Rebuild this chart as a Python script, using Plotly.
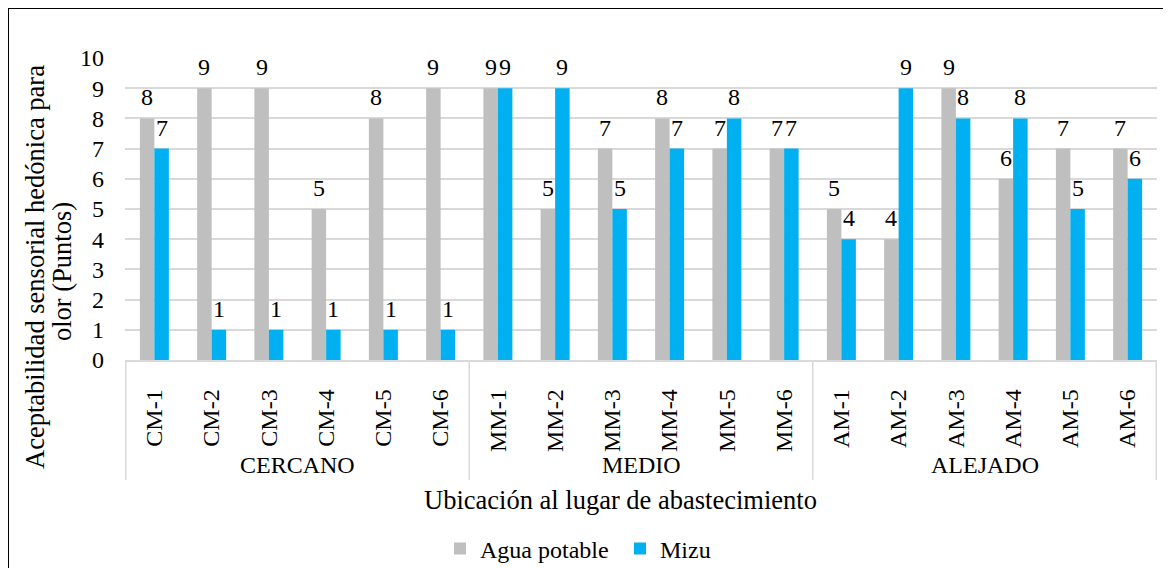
import plotly.graph_objects as go

categories = ["CM-1", "CM-2", "CM-3", "CM-4", "CM-5", "CM-6",
              "MM-1", "MM-2", "MM-3", "MM-4", "MM-5", "MM-6",
              "AM-1", "AM-2", "AM-3", "AM-4", "AM-5", "AM-6"]
groups = ["CERCANO", "MEDIO", "ALEJADO"]
agua_potable = [8, 9, 9, 5, 8, 9, 9, 5, 7, 8, 7, 7, 5, 4, 9, 6, 7, 7]
mizu = [7, 1, 1, 1, 1, 1, 9, 9, 5, 7, 8, 7, 4, 9, 8, 8, 5, 6]
y_ticks = [0, 1, 2, 3, 4, 5, 6, 7, 8, 9, 10]

FONT = "Liberation Serif, Times New Roman, serif"
GRAY = "#bfbfbf"
BLUE = "#00b0f0"
GRID = "#d9d9d9"

OFF = 8  # page body margin
W, H = 1171, 568
L, T = 125 - OFF, 58 - OFF
R = W - (1157 - OFF)
B = H - (360 - OFF)
PW = W - L - R
PH = H - T - B

def px_x(page_x):
    return (page_x - OFF - L) / PW

def px_y(page_y):
    return (H - B - (page_y - OFF)) / PH

fig = go.Figure()
fig.add_trace(go.Bar(name="Agua potable", x=categories, y=agua_potable,
                     marker=dict(color=GRAY, line=dict(width=0))))
fig.add_trace(go.Bar(name="Mizu", x=categories, y=mizu,
                     marker=dict(color=BLUE, line=dict(width=0))))

BARGAP = 0.494
annotations = []
half = PW / len(categories) * (1 - BARGAP) / 4
for c, v in zip(categories, agua_potable):
    annotations.append(dict(x=c, y=v, xref="x", yref="y", text=str(v), showarrow=False,
                            xshift=-half, yshift=6, yanchor="bottom",
                            font=dict(family=FONT, size=24, color="black")))
for c, v in zip(categories, mizu):
    annotations.append(dict(x=c, y=v, xref="x", yref="y", text=str(v), showarrow=False,
                            xshift=half, yshift=6, yanchor="bottom",
                            font=dict(family=FONT, size=24, color="black")))

n_per = len(categories) // len(groups)
for gi, g in enumerate(groups):
    annotations.append(dict(x=gi * n_per + (n_per - 1) / 2, y=px_y(465), xref="x", yref="paper",
                            text=g, showarrow=False, yanchor="middle",
                            font=dict(family=FONT, size=24, color="black")))

annotations.append(dict(x=px_x(620), y=px_y(500), xref="paper", yref="paper",
                        text="Ubicación al lugar de abastecimiento", showarrow=False,
                        yanchor="middle", xanchor="center",
                        font=dict(family=FONT, size=26.5, color="black")))
annotations.append(dict(x=px_x(35), y=px_y(267), xref="paper", yref="paper",
                        text="Aceptabilidad sensorial hedónica para",
                        showarrow=False, textangle=-90,
                        xanchor="center", yanchor="middle",
                        font=dict(family=FONT, size=26.5, color="black")))
annotations.append(dict(x=px_x(62), y=px_y(272), xref="paper", yref="paper",
                        text="olor (Puntos)",
                        showarrow=False, textangle=-90,
                        xanchor="center", yanchor="middle",
                        font=dict(family=FONT, size=26.5, color="black")))

shapes = []
for gi in range(len(groups) + 1):
    shapes.append(dict(type="line", xref="x", yref="paper",
                       x0=gi * n_per - 0.5, x1=gi * n_per - 0.5,
                       y0=0, y1=px_y(480), line=dict(color=GRID, width=1.5)))
shapes.append(dict(type="rect", xref="paper", yref="paper",
                   x0=px_x(OFF), x1=px_x(1195), y0=px_y(OFF), y1=px_y(600),
                   line=dict(color="black", width=2), fillcolor="rgba(0,0,0,0)"))

fig.update_layout(
    width=W, height=H,
    margin=dict(l=L, r=R, t=T, b=B, autoexpand=False),
    paper_bgcolor="white", plot_bgcolor="white",
    barmode="group", bargap=BARGAP, bargroupgap=0,
    font=dict(family=FONT, size=24, color="black"),
    xaxis=dict(type="category", tickangle=-90, showline=True, linecolor=GRID, linewidth=1.5,
               ticks="", showgrid=False, ticklabelstandoff=18,
               tickfont=dict(family=FONT, size=24, color="black")),
    yaxis=dict(range=[0, 10], tickvals=y_ticks, showgrid=True, gridcolor=GRID, gridwidth=1.5,
               zeroline=False, showline=False, ticks="", ticklabelstandoff=20,
               tickfont=dict(family=FONT, size=24, color="black")),
    legend=dict(orientation="h", x=px_x(440), xanchor="left", y=px_y(549), yanchor="middle",
                font=dict(family=FONT, size=24, color="black"), bgcolor="rgba(0,0,0,0)",
                entrywidth=135, entrywidthmode="pixels"),
    annotations=annotations,
    shapes=shapes,
)

fig.write_html("out.html")
